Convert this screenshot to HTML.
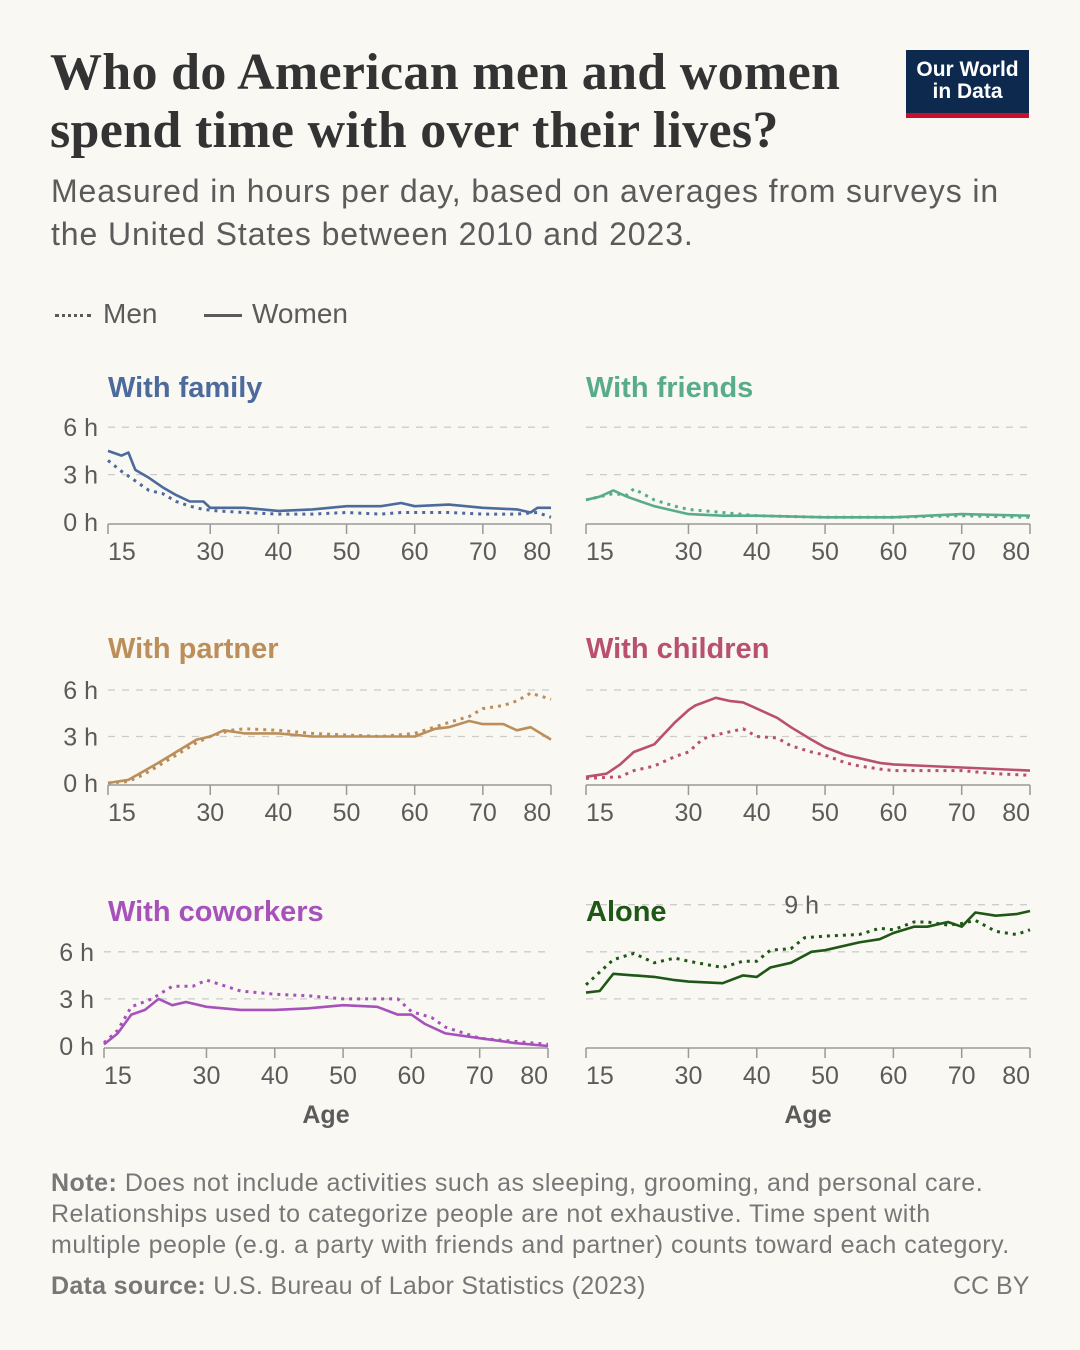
<!DOCTYPE html>
<html><head><meta charset="utf-8">
<style>
body{margin:0;background:#f9f8f3;}
#root{position:relative;width:1080px;height:1350px;background:#f9f8f3;font-family:"Liberation Sans",sans-serif;overflow:hidden}
.t{position:absolute;margin:0}
svg{position:absolute;left:0;top:0}
</style></head><body>
<div id="root">
<h1 class="t" style="left:50px;top:44px;font-family:'Liberation Serif',serif;font-size:52px;line-height:58px;font-weight:bold;color:#333;width:850px;letter-spacing:0.3px">Who do American men and women spend time with over their lives?</h1>
<div class="t" style="left:906px;top:50px;width:123px;height:68px;background:#0d2a4e;border-bottom:5px solid #c8102e;box-sizing:border-box;color:#fff;font-size:21px;line-height:22px;text-align:center;padding-top:9px;font-weight:bold">Our World<br>in Data</div>
<p class="t" style="left:51px;top:170px;font-size:32px;line-height:43px;color:#5b5b5b;width:990px;letter-spacing:0.9px">Measured in hours per day, based on averages from surveys in the United States between 2010 and 2023.</p>
<div class="t" style="left:55px;top:298px;font-size:28px;color:#5b5b5b"><span style="display:inline-block;width:36px;border-top:3px dotted #5b5b5b;vertical-align:middle;margin-right:12px"></span>Men</div>
<div class="t" style="left:204px;top:298px;font-size:28px;color:#5b5b5b"><span style="display:inline-block;width:38px;border-top:3px solid #5b5b5b;vertical-align:middle;margin-right:10px"></span>Women</div>
<div class="t" style="left:51px;top:1168px;font-size:25px;line-height:31px;color:#777;white-space:nowrap;letter-spacing:0.5px"><b>Note:</b> Does not include activities such as sleeping, grooming, and personal care.<br>Relationships used to categorize people are not exhaustive. Time spent with<br>multiple people (e.g. a party with friends and partner) counts toward each category.</div>
<div class="t" style="left:51px;top:1272px;font-size:25px;color:#777;letter-spacing:0.3px"><b>Data source:</b> U.S. Bureau of Labor Statistics (2023)</div>
<div class="t" style="left:953px;top:1272px;font-size:25px;color:#777">CC BY</div>
<svg id="svg" width="1080" height="1350"></svg>
</div>
<script>
const xTicks=[15,30,40,50,60,70,80];
const yTicks=[0,3,6];
const aloneTicks=[0,3,6,9];
const familyAgesW=[15,17,18,19,21,23,25,27,29,30,35,40,45,50,55,58,60,65,70,75,77,78,80];
const familyW=[4.5,4.2,4.4,3.3,2.8,2.2,1.7,1.3,1.3,0.9,0.9,0.7,0.8,1.0,1.0,1.2,1.0,1.1,0.9,0.8,0.6,0.9,0.9];
const familyAgesM=[15,17,19,21,23,25,27,29,31,35,40,45,50,55,58,60,65,70,75,78,80];
const familyM=[3.9,3.2,2.6,2.0,1.8,1.3,1.0,0.8,0.7,0.6,0.5,0.5,0.6,0.5,0.6,0.6,0.6,0.5,0.5,0.6,0.3];
const friendsAgesW=[15,17,19,21,23,25,27,30,35,40,50,60,70,80];
const friendsW=[1.4,1.6,2.0,1.6,1.3,1.0,0.8,0.5,0.4,0.4,0.3,0.3,0.5,0.4];
const friendsAgesM=[15,19,21,22,25,28,30,35,40,50,60,70,80];
const friendsM=[1.4,1.8,1.7,2.1,1.4,1.0,0.8,0.6,0.4,0.3,0.3,0.4,0.3];
const partnerAgesW=[15,18,20,22,25,28,30,32,35,40,45,50,55,60,63,65,68,70,73,75,77,80];
const partnerW=[0,0.2,0.7,1.2,2.0,2.8,3.0,3.4,3.2,3.2,3.0,3.0,3.0,3.0,3.5,3.6,4.0,3.8,3.8,3.4,3.6,2.8];
const partnerAgesM=[15,18,20,22,25,28,30,33,35,40,45,50,55,60,65,68,70,73,75,77,80];
const partnerM=[0,0.1,0.5,1.0,1.8,2.6,3.0,3.4,3.5,3.4,3.2,3.1,3.0,3.2,3.9,4.3,4.8,5.0,5.3,5.8,5.4];
const childrenAgesW=[15,18,20,22,25,28,30,31,34,36,38,40,43,45,48,50,53,55,58,60,65,70,75,80];
const childrenW=[0.4,0.6,1.2,2.0,2.5,3.9,4.7,5.0,5.5,5.3,5.2,4.8,4.2,3.6,2.8,2.3,1.8,1.6,1.3,1.2,1.1,1.0,0.9,0.8];
const childrenAgesM=[15,20,22,25,28,30,32,33,35,38,40,43,45,48,50,53,55,58,60,65,70,75,80];
const childrenM=[0.3,0.4,0.8,1.1,1.7,2.0,2.8,3.0,3.2,3.5,3.0,2.9,2.4,2.0,1.8,1.3,1.1,0.9,0.8,0.8,0.8,0.6,0.5];
const coworkersAgesW=[15,17,19,21,23,25,27,30,35,40,45,50,55,58,60,62,65,70,75,80];
const coworkersW=[0.1,0.8,2.0,2.3,3.0,2.6,2.8,2.5,2.3,2.3,2.4,2.6,2.5,2.0,2.0,1.4,0.8,0.5,0.2,0.0];
const coworkersAgesM=[15,17,19,22,25,28,30,35,40,45,50,55,58,60,63,65,70,75,80];
const coworkersM=[0.2,1.0,2.5,3.0,3.8,3.8,4.2,3.5,3.3,3.2,3.0,3.0,3.0,2.2,1.8,1.2,0.5,0.3,0.1];
const aloneAgesW=[15,17,19,22,25,28,30,35,38,40,42,45,48,50,55,58,60,63,65,68,70,72,75,78,80];
const aloneW=[3.4,3.5,4.6,4.5,4.4,4.2,4.1,4.0,4.5,4.4,5.0,5.3,6.0,6.1,6.6,6.8,7.2,7.6,7.6,7.9,7.6,8.5,8.3,8.4,8.6];
const aloneAgesM=[15,19,22,25,28,30,35,38,40,42,45,47,50,55,58,60,63,65,68,70,72,75,78,80];
const aloneM=[3.9,5.5,5.9,5.3,5.6,5.4,5.0,5.4,5.4,6.1,6.2,6.9,7.0,7.1,7.5,7.4,7.9,7.9,7.7,7.8,8.0,7.3,7.1,7.4];

const NS="http://www.w3.org/2000/svg";
const svg=document.getElementById('svg');
function mk(tag,attrs,parent){const e=document.createElementNS(NS,tag);for(const k in attrs)e.setAttribute(k,attrs[k]);(parent||svg).appendChild(e);return e;}
function panel(opt){
  const g=mk('g',{});
  
  
  const xs=a=>opt.x0+(a-15)*(opt.x1-opt.x0)/65;
  const ys=v=>opt.y0-v*opt.ph;
  const tt=mk('text',{x:opt.tx,y:opt.y0-125,'font-size':29,'font-weight':'bold',fill:opt.color,'font-family':'Liberation Sans'},g);
  tt.textContent=opt.title;
  
  
  opt.ticks.forEach(v=>{
    if(v>0){const l=mk('line',{x1:opt.gx||opt.x0,x2:opt.x1,y1:ys(v),y2:ys(v),stroke:'#ccc','stroke-width':1.3,'stroke-dasharray':'7,7'},g);
      
      }
    if(opt.ylab!==false||v===9){
      const t=mk('text',{x:opt.lx,y:ys(v)+9,'font-size':25,fill:'#5b5b5b','text-anchor':'end'},g);
      t.textContent=v+' h';
      
      
    }
  });
  const ax=mk('line',{x1:opt.x0,x2:opt.x1,y1:opt.y0+2,y2:opt.y0+2,stroke:'#999','stroke-width':1.5},g);
  
  
  xTicks.forEach((a,i)=>{
    const X=xs(a);
    const tk=mk('line',{x1:X,x2:X,y1:opt.y0+2,y2:opt.y0+12,stroke:'#999','stroke-width':1.5},g);
    
    
    const anc=i===0?'start':(i===xTicks.length-1?'end':'middle');
    const t=mk('text',{x:X,y:opt.y0+38,'font-size':25,fill:'#5b5b5b','text-anchor':anc},g);
    t.textContent=a;
    
    
  });
  if(opt.xtitle){const t=mk('text',{x:(opt.x0+opt.x1)/2,y:opt.y0+77,'font-size':25,'font-weight':'bold',fill:'#5b5b5b','text-anchor':'middle'},g);
    t.textContent='Age';
    
    }
  const line=(ages,vals,dotted,nm)=>{
    const d=ages.map((a,i)=>(i?'L':'M')+xs(a).toFixed(1)+','+ys(vals[i]).toFixed(1)).join('');
    const p=mk('path',{d,fill:'none',stroke:opt.color,'stroke-width':dotted?3:2.6,'stroke-linejoin':'round','stroke-dasharray':dotted?'3,5':'none'},g);
    
    
  };
  line(opt.am,opt.m,true,opt.name+'-men-line');
  line(opt.aw,opt.w,false,opt.name+'-women-line');
}
panel({name:'family',title:'With family',color:'#4c6a9c',x0:108,x1:551,y0:522,ph:15.8,tx:108,lx:98,ticks:yTicks,aw:familyAgesW,w:familyW,am:familyAgesM,m:familyM});
panel({name:'friends',title:'With friends',color:'#58ac8c',x0:586,x1:1030,y0:522,ph:15.8,tx:586,lx:0,ylab:false,ticks:yTicks,aw:friendsAgesW,w:friendsW,am:friendsAgesM,m:friendsM});
panel({name:'partner',title:'With partner',color:'#bc8e5a',x0:108,x1:551,y0:783,ph:15.5,tx:108,lx:98,ticks:yTicks,aw:partnerAgesW,w:partnerW,am:partnerAgesM,m:partnerM});
panel({name:'children',title:'With children',color:'#b95070',x0:586,x1:1030,y0:783,ph:15.5,tx:586,lx:0,ylab:false,ticks:yTicks,aw:childrenAgesW,w:childrenW,am:childrenAgesM,m:childrenM});
panel({name:'coworkers',title:'With coworkers',color:'#a652ba',x0:104,x1:548,y0:1046,ph:15.7,tx:108,lx:94,ticks:yTicks,xtitle:true,aw:coworkersAgesW,w:coworkersW,am:coworkersAgesM,m:coworkersM});
panel({name:'alone',title:'Alone',color:'#1f5716',x0:586,x1:1030,y0:1046,ph:15.7,tx:586,lx:819,ylab:false,ticks:aloneTicks,xtitle:true,aw:aloneAgesW,w:aloneW,am:aloneAgesM,m:aloneM});
</script>
</body></html>
